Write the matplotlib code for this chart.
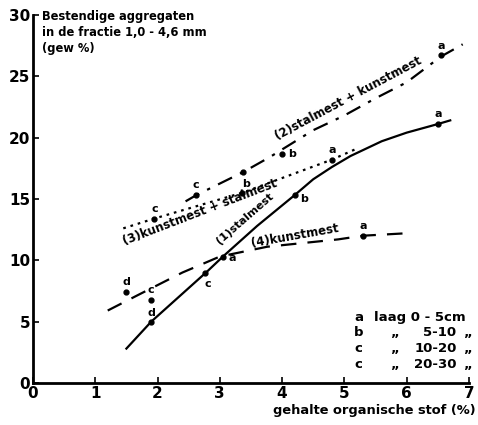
import matplotlib
matplotlib.use('Agg')
import matplotlib.pyplot as plt

# (1) stalmest - solid line
x1 = [1.5, 1.9, 2.8, 3.05, 3.6, 4.2, 4.5, 4.8, 5.1, 5.6, 6.0, 6.5, 6.7]
y1 = [2.8, 5.0, 9.1, 10.3, 12.8, 15.3, 16.6, 17.6, 18.5, 19.7, 20.4, 21.1, 21.4]
pts1_x = [1.9, 2.77, 3.05, 4.2, 6.5]
pts1_y = [5.0, 9.0, 10.3, 15.3, 21.1]
pts1_lab = ['d', 'c', 'a', 'b', 'a']

# (2) stalmest + kunstmest - dash-dot
x2 = [2.45, 2.62, 3.38, 3.8, 4.5, 5.0, 5.5, 6.0, 6.55, 6.9]
y2 = [14.8, 15.3, 17.2, 18.4, 20.6, 21.8, 23.2, 24.5, 26.6, 27.6]
pts2_x = [2.62, 3.38, 4.0, 6.55]
pts2_y = [15.3, 17.2, 18.7, 26.7]
pts2_lab = ['c', 'b', 'b', 'a']

# (3) kunstmest + stalmest - dotted
x3 = [1.45, 1.95, 3.36, 4.8, 5.2]
y3 = [12.6, 13.4, 15.5, 18.2, 19.1]
pts3_x = [1.95, 3.36, 4.8]
pts3_y = [13.4, 15.5, 18.2]
pts3_lab = ['c', '', 'a']

# (4) kunstmest - dashed
x4 = [1.2, 1.7, 2.4, 2.77, 3.0, 3.76, 4.9, 5.3, 6.0]
y4 = [5.9, 7.2, 9.0, 9.8, 10.3, 11.1, 11.7, 12.0, 12.2]
pts4_x = [1.5, 1.9, 5.3]
pts4_y = [7.4, 6.8, 12.0]
pts4_lab = ['d', 'c', 'a']

layer_letters = ['a', 'b', 'c', 'c']
layer_ranges = ['0 - 5cm', '5-10', '10-20', '20-30']

plt.rcParams['font.family'] = 'DejaVu Sans'
plt.rcParams['font.weight'] = 'bold'

fig = plt.figure(figsize=(4.78, 4.25), dpi=100)
ax = fig.add_axes([0.069, 0.099, 0.912, 0.866])

ax.plot(x1, y1, color='black', lw=1.6, ls='-')
ax.plot(x2, y2, color='black', lw=1.6, ls=(0, (7, 4, 1.5, 4)))
ax.plot(x3, y3, color='black', lw=1.6, ls=(0, (1.2, 2.2)))
ax.plot(x4, y4, color='black', lw=1.6, ls=(0, (7, 5)))

# label offsets in points (dx, dy) for the letters next to each point
offs = {
    1: [(0, 6), (2, -8), (7, -1), (7, -3), (0, 7)],
    2: [(0, 7), (2, -9), (7, 0), (0, 7)],
    3: [(0, 7), (0, 0), (0, 7)],
    4: [(0, 7), (0, 7), (0, 7)],
}
groups = [(pts1_x, pts1_y, pts1_lab), (pts2_x, pts2_y, pts2_lab),
          (pts3_x, pts3_y, pts3_lab), (pts4_x, pts4_y, pts4_lab)]
for gi, (px, py, labs) in enumerate(groups, start=1):
    ax.plot(px, py, 'o', color='black', ms=3.5, ls='none')
    for j, (xx, yy, lab) in enumerate(zip(px, py, labs)):
        if lab:
            ax.annotate(lab, (xx, yy), xytext=offs[gi][j], textcoords='offset points',
                        ha='center', va='center', fontsize=8, fontweight='bold')

# curve labels
ax.text(3.41, 13.4, '(1)stalmest', rotation=41, fontsize=8, ha='center', va='center')
ax.text(5.06, 23.2, '(2)stalmest + kunstmest', rotation=28, fontsize=8.5, ha='center', va='center')
ax.text(2.68, 13.9, '(3)kunstmest + stalmest', rotation=21, fontsize=8.5, ha='center', va='center')
ax.text(4.21, 12.0, '(4)kunstmest', rotation=10, fontsize=8.5, ha='center', va='center')

# layer legend
rows_y = [5.3, 4.08, 2.77, 1.47]
for i, (let, rng) in enumerate(zip(layer_letters, layer_ranges)):
    ax.text(5.23, rows_y[i], let, fontsize=9.5, ha='center', va='center')
    if i == 0:
        ax.text(5.48, rows_y[i], 'laag ' + rng, fontsize=9.5, ha='left', va='center')
    else:
        ax.text(5.8, rows_y[i], '„', fontsize=9.5, ha='center', va='center')
        ax.text(6.8, rows_y[i], rng, fontsize=9.5, ha='right', va='center')
        ax.text(6.97, rows_y[i], '„', fontsize=9.5, ha='center', va='center', clip_on=False)

ax.text(0.02, 1.014, 'Bestendige aggregaten\nin de fractie 1,0 - 4,6 mm\n(gew %)',
        transform=ax.transAxes, fontsize=8.3, ha='left', va='top', linespacing=1.3)

ax.set_xlim(0, 7)
ax.set_ylim(0, 30)
ax.set_xticks(range(0, 8))
ax.set_yticks(range(0, 31, 5))
for s in ['top', 'right']:
    ax.spines[s].set_visible(False)
for s in ['left', 'bottom']:
    ax.spines[s].set_linewidth(2.0)
ax.tick_params(direction='in', length=4, width=1.2, labelsize=11, pad=2)
for lab in ax.get_xticklabels() + ax.get_yticklabels():
    lab.set_fontweight('bold')

fig.text(0.995, 0.035, 'gehalte organische stof (%)', fontsize=9.4, ha='right', va='center')

fig.savefig('out.png', dpi=100)
